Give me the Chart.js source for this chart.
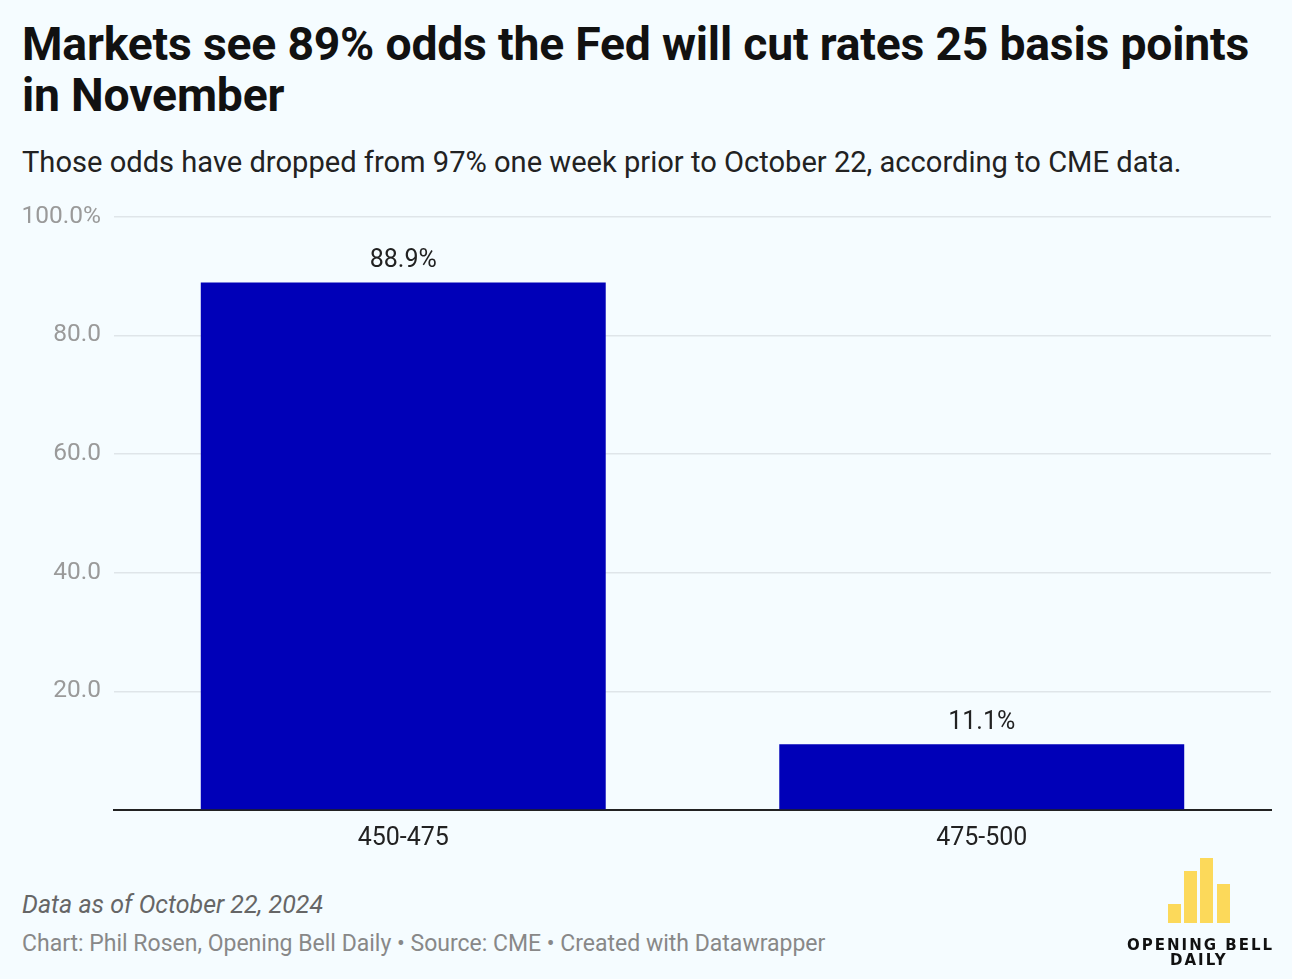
<!DOCTYPE html>
<html>
<head>
<meta charset="utf-8">
<script src="https://cdn.jsdelivr.net/npm/chart.js@4/dist/chart.umd.min.js"></script>
<style>
  body { margin: 0; background: #f5fcff; font-family: Roboto, sans-serif; }
  #page { position: relative; width: 1292px; height: 979px; overflow: hidden; }
  h1 { position: absolute; left: 22px; top: 19px; margin: 0; font-size: 46.3px; line-height: 51px; font-weight: 700; color: #111; width: 1260px; letter-spacing: -0.2px; }
  .sub { position: absolute; left: 22px; top: 145px; font-size: 29.1px; color: #222; }
  #wrap { position: absolute; left: 0; top: 189px; width: 1292px; height: 673px; }
  .note { position: absolute; left: 22px; top: 890px; font-size: 25px; font-style: italic; color: #666; }
  .src { position: absolute; left: 22px; top: 930px; font-size: 23px; color: #888; }
  .lb { position: absolute; background: #fcd95a; width: 13px; }
  .logo { position: absolute; font-family: "DejaVu Sans", sans-serif; font-weight: 700; font-size: 15px; letter-spacing: 2px; color: #111; }
</style>
</head>
<body>
<div id="page">
  <h1>Markets see 89% odds the Fed will cut rates 25 basis points in November</h1>
  <div class="sub">Those odds have dropped from 97% one week prior to October 22, according to CME data.</div>
  <div id="wrap"><canvas id="c" width="1292" height="673"></canvas></div>
  <div class="note">Data as of October 22, 2024</div>
  <div class="src">Chart: Phil Rosen, Opening Bell Daily • Source: CME • Created with Datawrapper</div>
  <div class="lb" style="left:1168px;top:904px;height:19px"></div>
  <div class="lb" style="left:1184px;top:871px;height:52px"></div>
  <div class="lb" style="left:1200px;top:858px;height:65px"></div>
  <div class="lb" style="left:1217px;top:884px;height:39px"></div>
  <div class="logo" style="left:1127px;top:936px">OPENING BELL</div>
  <div class="logo" style="left:1170px;top:951px">DAILY</div>
</div>
<script>
const categories = ['450-475', '475-500'];
const odds = [88.9, 11.1];
const yTicks = [0, 20, 40, 60, 80, 100];

const barLabels = {
  id: 'barLabels',
  afterDatasetsDraw(chart) {
    const ctx = chart.ctx;
    const meta = chart.getDatasetMeta(0);
    ctx.save();
    ctx.font = '25px Roboto';
    ctx.fillStyle = '#222';
    ctx.textAlign = 'center';
    ctx.textBaseline = 'bottom';
    meta.data.forEach((bar, i) => {
      ctx.fillText(odds[i].toFixed(1) + '%', bar.x, bar.y - 9);
    });
    ctx.restore();
  }
};

new Chart(document.getElementById('c'), {
  type: 'bar',
  data: {
    labels: categories,
    datasets: [{ data: odds, backgroundColor: '#0000b8', categoryPercentage: 0.7, barPercentage: 1 }]
  },
  options: {
    responsive: false,
    animation: false,
    layout: { padding: { top: 21, right: 21 } },
    plugins: { legend: { display: false }, tooltip: { enabled: false } },
    scales: {
      x: {
        grid: { display: false, drawTicks: false },
        border: { display: true, color: '#222', width: 2 },
        ticks: { color: '#222', font: { size: 25, family: 'Roboto' }, padding: 14 },
        afterFit(s) { s.height = 52; }
      },
      y: {
        min: 0, max: 100,
        afterBuildTicks(s) { s.ticks = yTicks.map(v => ({ value: v })); },
        grid: { color: c => c.tick && c.tick.value === 0 ? 'rgba(0,0,0,0)' : '#dfe5e9', drawTicks: false, lineWidth: 1.5 },
        border: { display: false },
        ticks: {
          color: '#9a9a9a', font: { size: 24.5, family: 'Roboto' }, padding: 13,
          callback: v => v === 0 ? '' : (v === 100 ? '100.0%' : v.toFixed(1))
        },
        afterFit(s) { s.width = 114; }
      }
    }
  },
  plugins: [barLabels]
});
</script>
</body>
</html>
